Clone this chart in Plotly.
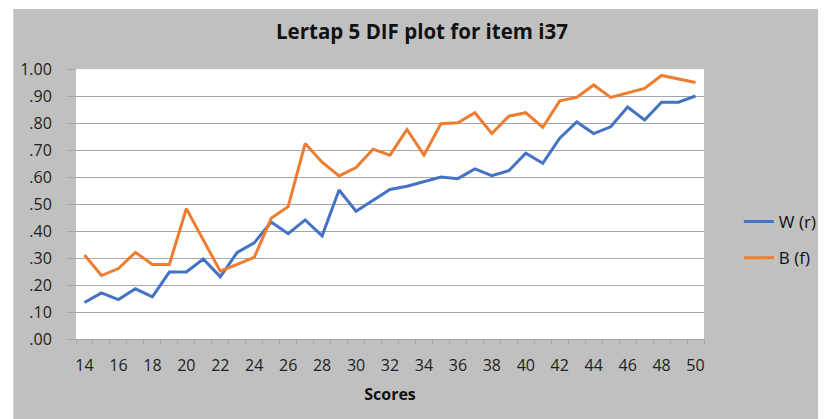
import plotly.graph_objects as go

# ---- data ----
scores = [14, 15, 16, 17, 18, 19, 20, 21, 22, 23, 24, 25, 26, 27, 28, 29, 30, 31, 32,
          33, 34, 35, 36, 37, 38, 39, 40, 41, 42, 43, 44, 45, 46, 47, 48, 49, 50]
w_r = [.135, .171, .146, .186, .156, .248, .248, .296, .230, .321, .356, .433, .390,
       .441, .382, .552, .473, .512, .554, .566, .583, .600, .594, .630, .605, .623,
       .688, .651, .744, .804, .761, .786, .859, .811, .877, .877, .900]
b_f = [.311, .235, .261, .321, .276, .276, .483, .369, .251, .276, .302, .447, .490,
       .724, .655, .604, .635, .703, .681, .776, .681, .797, .801, .838, .761, .825,
       .838, .784, .882, .895, .941, .895, .911, .928, .976, .962, .950]
x_ticks = [14, 16, 18, 20, 22, 24, 26, 28, 30, 32, 34, 36, 38, 40, 42, 44, 46, 48, 50]
y_ticks = [0, .1, .2, .3, .4, .5, .6, .7, .8, .9, 1.0]
y_labels = [".00", ".10", ".20", ".30", ".40", ".50", ".60", ".70", ".80", ".90", "1.00"]
series_names = ["W (r)", "B (f)"]
colors = ["#4472C4", "#ED7D31"]

W, H = 826, 419
L, R, T, B = 65, 130, 61, 88
PW, PH = W - L - R, H - T - B

fig = go.Figure()
for i, (name, ys) in enumerate(zip(series_names, [w_r, b_f])):
    fig.add_trace(go.Scatter(
        x=scores, y=ys, name=name, mode="lines", legendgroup=name,
        line=dict(color=colors[i], width=3),
    ))

gray = "#C0C0C0"
fig.update_layout(
    width=W, height=H,
    margin=dict(l=L, r=R, t=T, b=B, pad=0),
    paper_bgcolor=gray, plot_bgcolor="white",
    font=dict(family="Open Sans, sans-serif", color="#222222"),
    title=dict(text="<b>Lertap 5 DIF plot for item i37</b>", x=414 / W, xref="container",
               xanchor="center", y=1 - 24 / H, yref="container", yanchor="middle",
               font=dict(size=20.5, family="Open Sans, sans-serif", color="#111111")),
    showlegend=True,
    legend=dict(x=666 / PW, xanchor="left", y=(H - B - 196) / PH,
                yanchor="top", bgcolor="rgba(0,0,0,0)", traceorder="grouped",
                tracegroupgap=11, font=dict(size=17, color="#111111")),
    xaxis=dict(
        range=[13.5, 50.5], tickmode="array", tickvals=x_ticks,
        ticktext=[str(v) for v in x_ticks], ticks="", showgrid=False,
        showline=True, linecolor="#A6A6A6", linewidth=1,
        tickfont=dict(size=16, color="#222222"), ticklabelstandoff=12,
        minor=dict(tickmode="linear", tick0=13.5, dtick=1, ticks="outside",
                   ticklen=5, tickcolor="#A6A6A6", showgrid=False),
        title=dict(text="<b>Scores</b>", standoff=13,
                   font=dict(size=16, color="#111111")),
        zeroline=False, fixedrange=True,
    ),
    yaxis=dict(
        range=[0, 1], tickmode="array", tickvals=y_ticks, ticktext=y_labels,
        ticks="outside", ticklen=8, tickcolor="#A6A6A6",
        showgrid=True, gridcolor="#A6A6A6", gridwidth=1,
        showline=False, zeroline=False,
        tickfont=dict(size=16, color="#222222"), ticklabelstandoff=12,
        fixedrange=True,
    ),
)

# thin white strips so the grey chart area starts where the reference's does
fig.add_shape(type="rect", xref="paper", yref="paper", layer="below",
              x0=-L / PW - 0.01, x1=(2 - L) / PW,
              y0=-B / PH - 0.01, y1=(H - B) / PH + 0.01,
              fillcolor="white", line=dict(width=0))
fig.add_shape(type="rect", xref="paper", yref="paper", layer="below",
              x0=-L / PW - 0.01, x1=(W - L) / PW + 0.01,
              y0=(H - B - 1) / PH, y1=(H - B) / PH + 0.01,
              fillcolor="white", line=dict(width=0))

fig.write_html("out.html")
